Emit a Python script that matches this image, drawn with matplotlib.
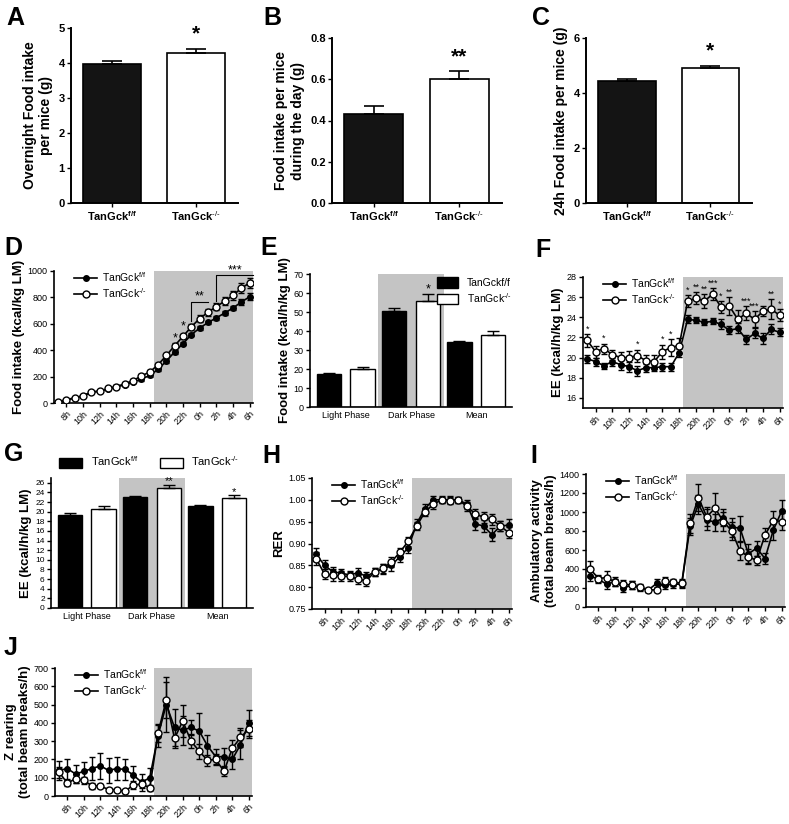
import matplotlib
matplotlib.use('Agg')
import matplotlib.pyplot as plt
import matplotlib.patches as patches
from matplotlib.lines import Line2D
import numpy as np

plt.rcParams['font.family'] = ['Liberation Sans', 'DejaVu Sans']
plt.rcParams['mathtext.fontset'] = 'custom'
plt.rcParams['mathtext.rm'] = 'Liberation Sans'
plt.rcParams['mathtext.it'] = 'Liberation Sans'
plt.rcParams['mathtext.bf'] = 'Liberation Sans:bold'

W, H = 789, 824
SHADE = '#c4c4c4'

# ---- data ----
groups = ['TanGck$^{\\mathbf{f/f}}$', 'TanGck$^{\\mathbf{\\text{-/-}}}$']
lab_ff = 'TanGck$^{f/f}$'
lab_ko = 'TanGck$^{\\text{-/-}}$'
overnight = [3.98, 4.30]
overnight_err = [0.07, 0.10]
day_intake = [0.43, 0.60]
day_intake_err = [0.04, 0.04]
intake_24h = [4.42, 4.90]
intake_24h_err = [0.10, 0.10]

hours = ['7h', '8h', '9h', '10h', '11h', '12h', '13h', '14h', '15h', '16h', '17h', '18h',
         '19h', '20h', '21h', '22h', '23h', '0h', '1h', '2h', '3h', '4h', '5h', '6h']

# D cumulative food intake
cum_ff = [10, 25, 40, 55, 85, 90, 105, 125, 135, 160, 180, 210,
          255, 318, 388, 450, 518, 568, 610, 645, 682, 720, 765, 805]
cum_ff_err = [4, 5, 5, 6, 7, 8, 8, 9, 9, 10, 10, 11,
              12, 12, 13, 13, 14, 14, 15, 15, 16, 17, 20, 25]
cum_ko = [8, 22, 38, 55, 80, 90, 110, 125, 145, 170, 205, 235,
          290, 360, 435, 505, 578, 640, 687, 730, 772, 815, 870, 910]
cum_ko_err = [4, 5, 5, 6, 7, 8, 8, 9, 10, 11, 12, 13,
              14, 15, 17, 20, 22, 24, 25, 27, 30, 33, 40, 40]

# E food intake by phase
phases = ['Light Phase', 'Dark Phase', 'Mean']
fi_ff = [17.5, 50.5, 34.0]
fi_ff_err = [0.6, 1.5, 0.7]
fi_ko = [20.0, 56.0, 38.0]
fi_ko_err = [1.0, 3.7, 1.8]

# F energy expenditure
ee_ff = [19.9, 19.6, 19.2, 19.6, 19.3, 19.1, 18.7, 19.0, 19.0, 19.1, 19.1, 20.5,
         23.8, 23.7, 23.5, 23.6, 23.3, 22.7, 22.9, 21.8, 22.4, 21.9, 22.8, 22.5]
ee_ff_err = [0.4, 0.4, 0.3, 0.4, 0.5, 0.5, 0.5, 0.4, 0.3, 0.4, 0.4, 0.4,
             0.4, 0.3, 0.3, 0.3, 0.5, 0.4, 0.5, 0.4, 0.5, 0.5, 0.5, 0.4]
ee_ko = [21.7, 20.6, 20.9, 20.3, 20.0, 20.0, 20.2, 19.7, 19.6, 20.6, 21.0, 21.2,
         25.6, 25.9, 25.6, 26.3, 25.0, 25.1, 23.8, 24.4, 23.8, 24.6, 24.8, 24.2]
ee_ko_err = [0.6, 0.6, 0.5, 0.5, 0.6, 0.7, 0.6, 0.6, 0.7, 0.7, 0.8, 0.7,
             0.6, 0.6, 0.7, 0.6, 0.6, 0.9, 0.9, 0.7, 0.8, 0.5, 1.0, 0.6]

# G EE by phase
ee_ph_ff = [19.4, 23.1, 21.2]
ee_ph_ff_err = [0.3, 0.2, 0.2]
ee_ph_ko = [20.5, 25.0, 22.8]
ee_ph_ko_err = [0.6, 0.6, 0.6]

# H RER
rer_ff = [0.875, 0.850, 0.835, 0.832, 0.828, 0.833, 0.825, 0.835, 0.842, 0.850, 0.870, 0.890,
          0.945, 0.980, 1.000, 1.000, 1.000, 1.000, 0.990, 0.945, 0.940, 0.920, 0.940, 0.942]
rer_ff_err = [0.015, 0.013, 0.012, 0.010, 0.010, 0.011, 0.010, 0.010, 0.011, 0.012, 0.012, 0.012,
              0.010, 0.010, 0.008, 0.007, 0.008, 0.007, 0.010, 0.013, 0.014, 0.015, 0.012, 0.015]
rer_ko = [0.865, 0.830, 0.828, 0.825, 0.825, 0.818, 0.815, 0.835, 0.843, 0.858, 0.880, 0.905,
          0.940, 0.972, 0.990, 1.000, 0.998, 1.000, 0.985, 0.968, 0.960, 0.955, 0.940, 0.925]
rer_ko_err = [0.015, 0.012, 0.013, 0.012, 0.010, 0.010, 0.012, 0.010, 0.011, 0.011, 0.010, 0.010,
              0.010, 0.010, 0.010, 0.008, 0.008, 0.007, 0.010, 0.012, 0.012, 0.012, 0.012, 0.012]

# I ambulatory activity
amb_ff = [330, 290, 240, 270, 200, 230, 200, 180, 250, 230, 240, 240,
          850, 1080, 920, 890, 940, 840, 830, 560, 620, 510, 810, 1010]
amb_ff_err = [60, 40, 50, 50, 40, 40, 30, 20, 40, 40, 40, 40,
              90, 100, 110, 90, 90, 100, 130, 100, 80, 60, 100, 120]
amb_ko = [400, 300, 310, 260, 240, 230, 210, 180, 180, 270, 260, 250,
          880, 1150, 950, 1040, 900, 800, 590, 530, 490, 760, 910, 900]
amb_ko_err = [80, 40, 70, 40, 40, 40, 30, 20, 20, 50, 40, 40,
              100, 140, 100, 160, 100, 90, 90, 80, 50, 70, 100, 90]

# J Z rearing
rear_ff = [140, 150, 120, 135, 150, 165, 140, 150, 145, 115, 75, 100,
           330, 500, 375, 360, 375, 355, 275, 215, 215, 200, 280, 400]
rear_ff_err = [50, 55, 50, 50, 65, 70, 70, 65, 60, 50, 45, 55,
               60, 150, 100, 80, 40, 100, 60, 40, 50, 50, 80, 70]
rear_ko = [130, 70, 95, 85, 55, 55, 35, 35, 25, 60, 65, 45,
           345, 525, 315, 410, 300, 245, 195, 200, 135, 260, 320, 365]
rear_ko_err = [30, 15, 25, 20, 15, 10, 8, 8, 6, 20, 20, 15,
               50, 100, 50, 90, 40, 40, 30, 30, 25, 45, 50, 50]


def ax_px(l, t, r, b):
    return fig.add_axes([l / W, 1 - b / H, (r - l) / W, (b - t) / H])


def style(ax, lw=1.2):
    for s in ['top', 'right']:
        ax.spines[s].set_visible(False)
    for s in ['left', 'bottom']:
        ax.spines[s].set_linewidth(lw)
    ax.tick_params(direction='out', length=3, width=1.0, pad=1.5)


def letter(x, y, s):
    fig.text(x / W, 1 - y / H, s, fontsize=18, fontweight='bold', va='top', ha='left')


def top_bar(ax, vals, errs, ylim, yticks, ylabel, star, fmt=None):
    x = np.arange(2)
    ax.bar(x, vals, width=0.69, color=['#141414', 'white'], edgecolor='black', linewidth=1.2)
    for i in range(2):
        ax.errorbar(x[i], vals[i], yerr=[[0], [errs[i]]], color='black', capsize=7,
                    elinewidth=1.2, capthick=1.2)
    ax.set_xlim(-0.49, 1.5)
    ax.set_ylim(*ylim)
    ax.set_yticks(yticks)
    if fmt:
        ax.set_yticklabels([fmt % v for v in yticks])
    ax.set_xticks(x)
    ax.set_xticklabels(groups, fontweight='bold', fontsize=8.5)
    style(ax, 1.4)
    ax.tick_params(axis='both', labelsize=8)
    for lab in ax.get_yticklabels():
        lab.set_fontweight('bold')
    ax.set_ylabel(ylabel, fontsize=10, fontweight='bold', labelpad=4)
    ax.text(1, vals[1] + errs[1] + (ylim[1] - ylim[0]) * 0.03, star, ha='center', va='bottom',
            fontsize=15, fontweight='bold')


def time_plot(ax, ff, ffe, ko, koe, ylim, yticks, ylabel, fmt=None, legend=True):
    x = np.arange(len(hours))
    ax.axvspan(11.5, 24, color=SHADE, lw=0, zorder=0)
    ax.errorbar(x, ff, yerr=ffe, color='black', marker='o', ms=4, mfc='black', mec='black',
                lw=1.2, elinewidth=1.0, capsize=2.5, capthick=1.0, zorder=3)
    ax.errorbar(x, ko, yerr=koe, color='black', marker='o', ms=5, mfc='white', mec='black',
                mew=1.0, lw=1.2, elinewidth=1.0, capsize=2.5, capthick=1.0, zorder=4)
    ax.set_xlim(-0.5, 23.4)
    ax.set_ylim(*ylim)
    ax.set_yticks(yticks)
    if fmt:
        ax.set_yticklabels([fmt % v for v in yticks])
    ax.set_xticks(x[1::2])
    ax.set_xticklabels(hours[1::2], rotation=45, ha='right', rotation_mode='anchor')
    style(ax)
    ax.tick_params(axis='both', labelsize=6.5)
    ax.set_ylabel(ylabel, fontsize=9.5, fontweight='bold', labelpad=2)
    if legend:
        handles = [Line2D([], [], color='black', marker='o', ms=4, mfc='black', lw=1.2, label=lab_ff),
                   Line2D([], [], color='black', marker='o', ms=5, mfc='white', mew=1.0, lw=1.2,
                          label=lab_ko)]
        ax.legend(handles=handles, loc='upper left', bbox_to_anchor=(0.08, 1.04), frameon=False,
                  fontsize=7.5, handlelength=2.2, borderaxespad=0, labelspacing=0.2,
                  handletextpad=0.5)


def phase_bar(ax, ff, ffe, ko, koe, ylim, yticks, ylabel):
    x = np.arange(3)
    ax.axvspan(0.5, 1.5, color=SHADE, lw=0, zorder=0)
    ax.bar(x - 0.26, ff, width=0.38, color='black', edgecolor='black', lw=1.0, zorder=2)
    ax.bar(x + 0.26, ko, width=0.38, color='white', edgecolor='black', lw=1.0, zorder=2)
    ax.errorbar(x - 0.26, ff, yerr=[np.zeros(3), ffe], fmt='none', ecolor='black', capsize=4,
                elinewidth=1.0, capthick=1.0, zorder=3)
    ax.errorbar(x + 0.26, ko, yerr=[np.zeros(3), koe], fmt='none', ecolor='black', capsize=4,
                elinewidth=1.0, capthick=1.0, zorder=3)
    ax.set_xlim(-0.55, 2.55)
    ax.set_ylim(*ylim)
    ax.set_yticks(yticks)
    ax.set_xticks(x)
    ax.set_xticklabels(phases)
    style(ax)
    ax.tick_params(axis='x', length=0, pad=3)
    ax.tick_params(axis='both', labelsize=6.5)
    ax.set_ylabel(ylabel, fontsize=9.5, fontweight='bold', labelpad=2)


fig = plt.figure(figsize=(W / 100, H / 100), dpi=100)

# A
axA = ax_px(71, 28, 238, 203)
top_bar(axA, overnight, overnight_err, (0, 5), [0, 1, 2, 3, 4, 5],
        'Overnight Food intake\nper mice (g)', '*')
letter(6, 6, 'A')

# B
axB = ax_px(332, 38, 502, 203)
top_bar(axB, day_intake, day_intake_err, (0, 0.8), [0, 0.2, 0.4, 0.6, 0.8],
        'Food intake per mice\nduring the day (g)', '**', fmt='%.1f')
letter(263, 6, 'B')

# C
axC = ax_px(586, 38, 752, 203)
top_bar(axC, intake_24h, intake_24h_err, (0, 6), [0, 2, 4, 6],
        '24h Food intake per mice (g)', '*')
letter(532, 6, 'C')

# D
axD = ax_px(54, 271, 253, 403)
time_plot(axD, cum_ff, cum_ff_err, cum_ko, cum_ko_err, (0, 1000), [0, 200, 400, 600, 800, 1000],
          'Food intake (kcal/kg LM)')
axD.text(14, 470, '*', ha='center', fontsize=9)
axD.text(15, 560, '*', ha='center', fontsize=9)
axD.plot([16, 16, 18], [625, 765, 765], color='black', lw=0.8)
axD.text(17, 785, '**', ha='center', fontsize=9)
axD.plot([19, 19, 23.4], [770, 970, 970], color='black', lw=0.8, clip_on=False)
axD.text(21.2, 985, '***', ha='center', fontsize=9, clip_on=False)
letter(4, 236, 'D')

# E
axE = ax_px(310, 274, 512, 407)
phase_bar(axE, fi_ff, fi_ff_err, fi_ko, fi_ko_err, (0, 70), list(range(0, 71, 10)),
          'Food intake (kcal/h/kg LM)')
axE.text(1.26, fi_ko[1] + fi_ko_err[1] + 0.5, '*', ha='center', fontsize=9)
axE.legend(handles=[patches.Patch(facecolor='black', edgecolor='black', label='TanGckf/f'),
                    patches.Patch(facecolor='white', edgecolor='black', label=lab_ko)],
           loc='upper left', bbox_to_anchor=(0.61, 1.01), frameon=False, fontsize=7.5,
           handlelength=2.0, handleheight=1.2, labelspacing=0.3, borderaxespad=0)
letter(260, 236, 'E')

# F
axF = ax_px(583, 277, 783, 408)
time_plot(axF, ee_ff, ee_ff_err, ee_ko, ee_ko_err, (15, 28), list(range(16, 29, 2)),
          'EE (kcal/h/kg LM)')
f_stars = {0: '*', 2: '*', 6: '*', 9: '*', 10: '*', 12: '*', 13: '**', 14: '**', 15: '***',
           16: '*', 17: '**', 19: '***', 20: '***', 22: '**', 23: '*'}
for k, s in f_stars.items():
    axF.text(k, ee_ko[k] + ee_ko_err[k] + 0.05, s, ha='center', va='bottom', fontsize=6.5)
letter(535, 238, 'F')

# G
axG = ax_px(51, 478, 253, 608)
phase_bar(axG, ee_ph_ff, ee_ph_ff_err, ee_ph_ko, ee_ph_ko_err, (0, 27), list(range(0, 27, 2)),
          'EE (kcal/h/kg LM)')
axG.tick_params(axis='y', labelsize=6)
axG.text(1.26, ee_ph_ko[1] + ee_ph_ko_err[1] + 0.1, '**', ha='center', fontsize=8)
axG.text(2.26, ee_ph_ko[2] + ee_ph_ko_err[2] + 0.1, '*', ha='center', fontsize=8)
axG.legend(handles=[patches.Patch(facecolor='black', edgecolor='black', label=lab_ff),
                    patches.Patch(facecolor='white', edgecolor='black', label=lab_ko)],
           loc='lower left', bbox_to_anchor=(0.02, 1.04), ncol=2, frameon=False, fontsize=8,
           handlelength=2.0, handleheight=1.0, columnspacing=2.0, borderaxespad=0)
letter(4, 442, 'G')

# H
axH = ax_px(312, 478, 512, 609)
time_plot(axH, rer_ff, rer_ff_err, rer_ko, rer_ko_err, (0.75, 1.05),
          [0.75, 0.80, 0.85, 0.90, 0.95, 1.00, 1.05], 'RER', fmt='%.2f')
letter(262, 444, 'H')

# I
axI = ax_px(586, 474, 785, 607)
time_plot(axI, amb_ff, amb_ff_err, amb_ko, amb_ko_err, (0, 1400), list(range(0, 1401, 200)),
          'Ambulatory activity\n(total beam breaks/h)')
letter(530, 444, 'I')

# J
axJ = ax_px(55, 668, 252, 796)
time_plot(axJ, rear_ff, rear_ff_err, rear_ko, rear_ko_err, (0, 700), list(range(0, 701, 100)),
          'Z rearing\n(total beam breaks/h)')
letter(4, 636, 'J')

fig.savefig('out.png', dpi=100)
